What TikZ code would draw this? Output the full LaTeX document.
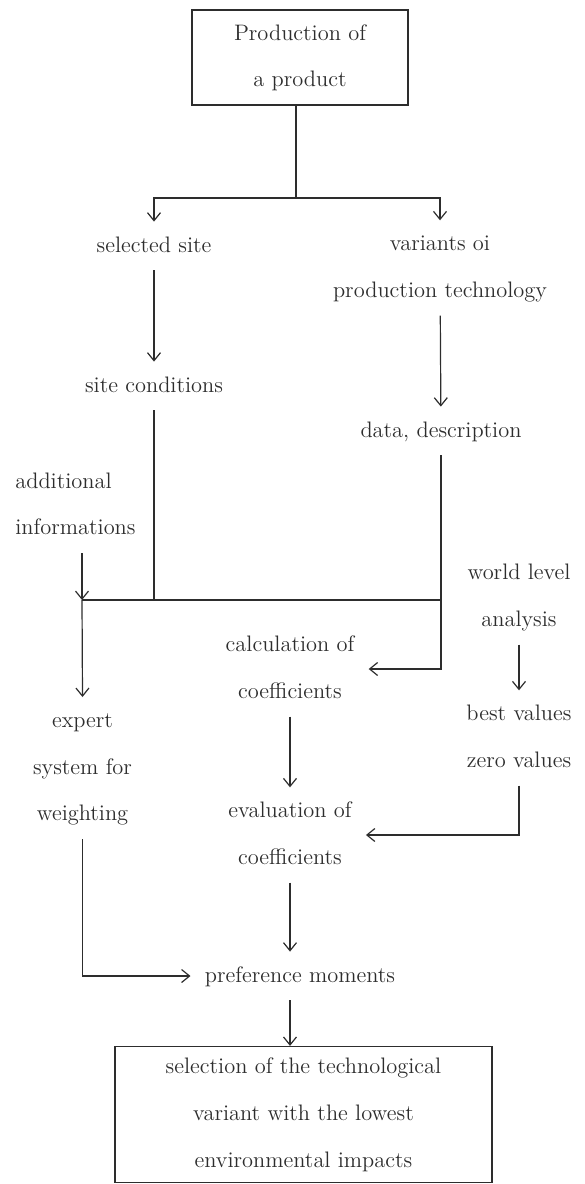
\documentclass[tikz,border=0pt]{standalone}
\usetikzlibrary{arrows.meta}
\definecolor{ink}{RGB}{45,45,45}
\newcommand\sr{\rule[-4pt]{0pt}{14pt}}
\begin{document}
\begin{tikzpicture}[x=0.5pt,y=-0.5pt,
  lbl/.style={font=\fontsize{11.2}{23.3}\selectfont, align=center, inner xsep=7pt, inner ysep=5pt, text=ink},
  framed/.style={lbl, draw=ink, line width=0.6pt, inner sep=0pt},
  conn/.style={draw=ink, line width=0.6pt},
  arr/.style={conn, -{Straight Barb[length=4pt,width=6.5pt]}}]
\useasboundingbox (0,0) rectangle (584,1184);
% nodes
\node[framed, minimum width=108pt, minimum height=47.5pt] (prod) at (300,57.5) {\sr Production of\\\sr a product};
\node[lbl] (sel) at (154,246) {\sr selected site};
\node[lbl] (var) at (440,268) {\sr variants oi\\\sr production technology};
\node[lbl] (site) at (154,386) {\sr site conditions};
\node[lbl] (data) at (441,431) {\sr data, description};
\node[lbl, align=left, anchor=west] (addl) at (1,505.5) {\sr additional\\\sr informations};
\node[lbl] (world) at (519,597) {\sr world level\\\sr analysis};
\node[lbl] (calc) at (290,669) {\sr calculation of\\\sr coefficients};
\node[lbl] (expert) at (82.5,768) {\sr expert\\\sr system for\\\sr weighting};
\node[lbl] (best) at (519,738) {\sr best values\\\sr zero values};
\node[lbl] (eval) at (290,835) {\sr evaluation of\\\sr coefficients};
\node[lbl] (pref) at (300,976) {\sr preference moments};
\node[framed, minimum width=188.5pt, minimum height=68pt] (final) at (303.5,1114.5) {\sr selection of the technological\\\sr variant with the lowest\\\sr environmental impacts};
% junctions
\coordinate (j1) at (296,198);
\coordinate (j2) at (82,600);
% connectors
\draw[conn] (prod.south -| j1) -- (j1);
\draw[arr] (j1) -| (sel.north);
\draw[arr] (j1) -| (var.north);
\draw[arr] (sel) -- (site);
\draw[arr] (var) -- (data);
\draw[conn] (site.south) -- (site.south |- j2);
\draw[conn] (data.south) |- (j2);
\draw[arr] (data.south) |- (calc.east);
\draw[arr] (addl.south -| j2) -- (j2);
\draw[arr] (j2) -- (expert.north);
\draw[arr] (world) -- (best);
\draw[arr] (best.south) |- (eval.east);
\draw[arr] (calc) -- (eval);
\draw[arr] (eval.south) -- (eval.south |- pref.north);
\draw[arr] (expert.south) |- (pref.west);
\draw[arr] (pref.south -| eval.south) -- (final.north -| eval.south);
\end{tikzpicture}
\end{document}
